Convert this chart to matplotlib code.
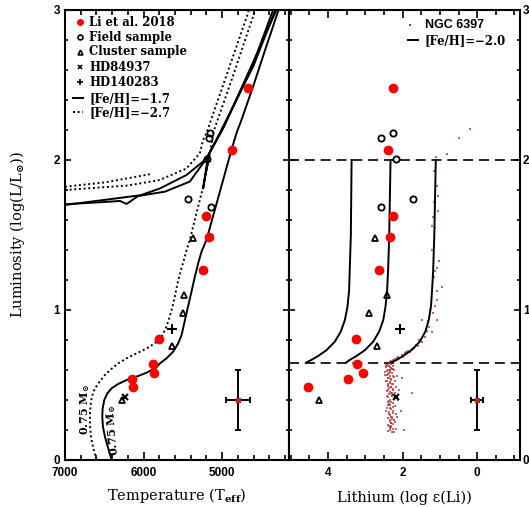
import matplotlib
matplotlib.use("Agg")
import matplotlib.pyplot as plt
from matplotlib.ticker import MultipleLocator

plt.rcParams["font.family"] = ["DejaVu Serif"]
plt.rcParams["font.weight"] = "bold"
plt.rcParams["mathtext.fontset"] = "dejavuserif"
plt.rcParams["mathtext.default"] = "bf"

SANS = "Liberation Sans"
MINUS = "\u2212"

# Li et al. 2018
LI18_TEFF = [4670, 4875, 5205, 5170, 5245, 5800, 5880, 5870, 6145, 6135]
LI18_LUM = [2.48, 2.07, 1.63, 1.49, 1.27, 0.81, 0.64, 0.58, 0.54, 0.49]
LI18_LI = [2.25, 2.38, 2.25, 2.33, 2.63, 3.24, 3.23, 3.06, 3.47, 4.55]

# field sample
FIELD_TEFF = [5150, 5167, 5190, 5433, 5145]
FIELD_LUM = [2.18, 2.15, 2.01, 1.74, 1.69]
FIELD_LI = [2.26, 2.57, 2.17, 1.73, 2.59]

# cluster sample
CLUSTER_TEFF = [5370, 5484, 5505, 5637, 6280]
CLUSTER_LUM = [1.48, 1.10, 0.98, 0.76, 0.40]
CLUSTER_LI = [2.73, 2.43, 2.90, 2.68, 4.24]

# single stars (Teff, logL, A(Li))
HD84937 = (6240, 0.42, 2.17)
HD140283 = (5640, 0.875, 2.06)

# typical error bars
ERR_TEFF, ERR_TEFF_X, ERR_LUM, ERR_LUM_Y = 4800, 150, 0.40, 0.20
ERR_LI, ERR_LI_X = 0.0, 0.17

# isochrone [Fe/H]=-1.7, 0.75 Msun
ISO17_TEFF = [6407, 6450, 6492, 6517, 6526, 6521, 6500, 6462, 6407, 6323, 6216,
              6089, 5962, 5835, 5793, 5708, 5624, 5560, 5517, 5488, 5454, 5420,
              5386, 5348, 5306, 5263, 5200, 5130, 5050, 4960, 4882, 4818, 4755,
              4600, 4450, 4283, 4250]
ISO17_LUM = [0.0, 0.078, 0.156, 0.222, 0.289, 0.344, 0.40, 0.444, 0.478, 0.507, 0.533,
             0.556, 0.582, 0.618, 0.644, 0.678, 0.722, 0.778, 0.833, 0.90, 0.978, 1.056,
             1.133, 1.222, 1.311, 1.389, 1.467, 1.60, 1.75, 1.92, 2.067, 2.18, 2.267,
             2.50, 2.74, 3.0, 3.05]

# isochrone [Fe/H]=-2.7, 0.75 Msun
ISO27_TEFF = [6597, 6640, 6670, 6682, 6682, 6670, 6640, 6577, 6492, 6410, 6320,
              6216, 6089, 5962, 5856, 5771, 5717, 5675, 5632, 5599, 5568, 5530,
              5488, 5446, 5412, 5330, 5243, 5170, 5116, 4850, 4586, 4560]
ISO27_LUM = [0.0, 0.078, 0.156, 0.233, 0.311, 0.389, 0.456, 0.511, 0.567, 0.607, 0.645,
             0.678, 0.711, 0.744, 0.778, 0.822, 0.878, 0.944, 1.022, 1.10, 1.178, 1.256,
             1.333, 1.411, 1.467, 1.64, 1.82, 2.0, 2.18, 2.58, 2.99, 3.05]

# horizontal branch tracks, [Fe/H]=-1.7
HB17_A_TEFF = [7000, 6500, 6301, 6216, 6069, 5729, 5412, 5200, 5179, 5030, 4600, 4332, 4300]
HB17_A_LUM = [1.705, 1.72, 1.727, 1.707, 1.76, 1.789, 1.856, 2.01, 2.03, 2.18, 2.63, 2.99, 3.04]
HB17_B_TEFF = [7000, 6040, 5793, 5454, 5243, 5179, 5000, 4620, 4360, 4330]
HB17_B_LUM = [1.70, 1.765, 1.81, 1.90, 1.99, 2.03, 2.20, 2.62, 2.99, 3.04]
HB17_C_TEFF = [5179, 5243, 5160, 4980, 4600, 4310, 4280]
HB17_C_LUM = [2.03, 1.81, 2.05, 2.22, 2.66, 3.0, 3.05]

# horizontal branch tracks, [Fe/H]=-2.7
HB27_A_TEFF = [7000, 6600, 6200, 5793, 5454, 5285, 5243, 5200, 4935, 4671, 4650]
HB27_A_LUM = [1.80, 1.815, 1.83, 1.867, 1.944, 2.044, 2.133, 2.18, 2.58, 2.98, 3.03]
HB27_B_TEFF = [7000, 6500, 5920]
HB27_B_LUM = [1.822, 1.85, 1.905]

# Li evolution tracks, [Fe/H]=-2.0
TRACK1_LI = [3.37, 3.39, 3.42, 3.436, 3.48, 3.55, 3.66, 3.82, 4.04, 4.27, 4.45, 4.58]
TRACK1_LUM = [2.0, 1.5, 1.267, 1.133, 1.022, 0.933, 0.856, 0.789, 0.733, 0.693, 0.667, 0.651]
TRACK2_LI = [2.325, 2.36, 2.39, 2.416, 2.46, 2.52, 2.63, 2.79, 3.01, 3.24, 3.42, 3.51]
TRACK2_LUM = [2.0, 1.5, 1.267, 1.133, 1.022, 0.933, 0.856, 0.789, 0.733, 0.693, 0.667, 0.651]
TRACK3_LI = [1.11, 1.15, 1.18, 1.21, 1.24, 1.30, 1.39, 1.54, 1.76, 1.99, 2.16, 2.30]
TRACK3_LUM = [2.0, 1.5, 1.267, 1.133, 1.022, 0.933, 0.856, 0.789, 0.733, 0.693, 0.667, 0.651]

# NGC 6397 stars
NGC_LI = [0.20, 0.50, 0.82, 1.11, 1.16, 1.09, 1.05, 1.16, 1.06, 1.18, 1.22, 1.14,
          1.02, 1.09, 1.12, 1.15, 0.94, 1.07, 1.09, 1.12, 1.18, 1.09, 1.49, 1.28,
          1.22, 1.40, 1.49, 1.63, 1.70, 1.81, 1.94, 2.03, 2.12, 2.21, 2.30, 2.34,
          1.35, 1.55, 1.75, 1.90, 2.00, 2.15, 2.25, 1.20, 1.27, 1.33, 1.60, 1.85,
          2.38, 2.30, 2.42, 2.25, 2.35, 2.45, 2.28, 2.40, 2.33, 2.22, 2.47, 2.36,
          2.29, 2.42, 2.25, 2.34, 2.39, 2.30, 2.44, 2.21, 2.35, 2.27, 2.40, 2.32,
          2.18, 2.37, 2.26, 2.43, 2.31, 2.20, 2.36, 2.28, 1.76, 2.40, 2.24, 2.33,
          2.12, 2.38, 2.27, 2.35, 2.21, 2.42, 2.30, 2.25, 2.37, 2.18, 2.33, 2.28,
          2.40, 2.22, 2.34, 2.30, 2.26, 2.37, 2.31, 2.19, 2.35, 2.28, 1.96, 2.05,
          2.10, 2.15, 2.02,
          2.44, 2.36, 2.31, 2.27, 2.41, 2.33, 2.39, 2.46, 2.24, 2.37, 2.30, 2.43,
          2.35, 2.28, 2.40, 2.32, 2.26, 2.38, 2.34, 2.29, 2.41, 2.23, 2.36, 2.31,
          2.39, 2.27, 2.33, 2.44, 2.25, 2.37, 2.32, 2.29, 2.35, 2.21, 2.38, 2.30,
          2.34, 2.27, 2.40, 2.24, 2.32, 2.36, 2.29, 2.39, 2.16, 2.33]
NGC_LUM = [2.21, 2.15, 2.04, 2.02, 1.93, 1.83, 1.76, 1.72, 1.66, 1.62, 1.56, 1.55,
           1.33, 1.28, 1.26, 1.22, 1.156, 1.13, 1.067, 1.03, 0.978, 0.933, 0.933, 0.89,
           0.856, 0.82, 0.789, 0.767, 0.745, 0.722, 0.711, 0.70, 0.684, 0.671, 0.662, 0.655,
           0.86, 0.80, 0.74, 0.72, 0.69, 0.68, 0.665, 1.40, 1.00, 0.93, 0.76, 0.73,
           0.64, 0.64, 0.63, 0.63, 0.62, 0.62, 0.61, 0.60, 0.60, 0.60, 0.59, 0.58,
           0.58, 0.57, 0.56, 0.56, 0.55, 0.54, 0.53, 0.53, 0.52, 0.51, 0.50, 0.49,
           0.49, 0.48, 0.47, 0.46, 0.45, 0.45, 0.44, 0.43, 0.45, 0.42, 0.41, 0.40,
           0.40, 0.39, 0.38, 0.37, 0.36, 0.35, 0.34, 0.33, 0.32, 0.31, 0.30, 0.29,
           0.28, 0.27, 0.26, 0.25, 0.24, 0.23, 0.22, 0.21, 0.20, 0.19, 0.20, 0.33,
           0.47, 0.56, 0.55,
           0.635, 0.625, 0.615, 0.605, 0.595, 0.585, 0.575, 0.565, 0.555, 0.545, 0.535, 0.525,
           0.515, 0.505, 0.495, 0.485, 0.475, 0.465, 0.455, 0.435, 0.425, 0.415, 0.395, 0.385,
           0.365, 0.355, 0.345, 0.325, 0.315, 0.305, 0.285, 0.275, 0.265, 0.255, 0.235, 0.225,
           0.215, 0.205, 0.195, 0.185, 0.245, 0.375, 0.445, 0.505, 0.29, 0.60]

LI_DEPLETION_LUM = [2.0, 0.65]

DOT = (0, (1, 1.4))
RED = "#ff0000"
NGC_COLOR = "#b03636"


def style_axes(ax):
    ax.set_ylim(0, 3)
    ax.yaxis.set_major_locator(MultipleLocator(1))
    ax.yaxis.set_minor_locator(MultipleLocator(0.2))
    ax.tick_params(which="both", direction="in", top=True, right=True, width=1.2,
                   labelsize=8.5, labelfontfamily=SANS)
    ax.tick_params(axis="x", which="major", length=6, pad=5)
    ax.tick_params(axis="x", which="minor", length=3.6)
    ax.tick_params(axis="y", which="major", length=4.5)
    ax.tick_params(axis="y", which="minor", length=2.5)
    for spine in ax.spines.values():
        spine.set_linewidth(1.5)


def plot_symbols(ax, xs):
    li18, field, cluster, hd84, hd14 = xs
    ax.plot(field[0], field[1], "o", ms=4.5, mfc="none", mec="black", mew=1.3, ls="none")
    ax.plot(cluster[0], cluster[1], "^", ms=5, mfc="none", mec="black", mew=1.3, ls="none")
    ax.plot(hd84[0], hd84[1], "x", ms=4.5, color="black", mew=1.5, ls="none")
    ax.plot(hd14[0], hd14[1], "+", ms=6.5, color="black", mew=1.5, ls="none")
    ax.plot(li18[0], li18[1], "o", ms=6, color=RED, mec=RED, ls="none")


def legend_marker(ax, x, y, text, size=8.4, family=None, gap=0.04, **style):
    ax.plot([x], [y], transform=ax.transAxes, ls="none", clip_on=False, **style)
    ax.text(x + gap, y, text, transform=ax.transAxes, va="center", ha="left",
            fontsize=size, family=family)


def legend_line(ax, x0, x1, y, text, **style):
    ax.plot([x0, x1], [y, y], transform=ax.transAxes, clip_on=False, color="black", **style)
    ax.text(x1 + 0.03, y, text, transform=ax.transAxes, va="center", ha="left", fontsize=8.4)


def main():
    fig = plt.figure(figsize=(5.29, 5.07), dpi=100)
    ax_t = fig.add_axes([65 / 529, 47 / 507, 224 / 529, 450 / 507])
    ax_l = fig.add_axes([289 / 529, 47 / 507, 231 / 529, 450 / 507])

    # ---- temperature panel
    ax_t.plot(ISO17_TEFF, ISO17_LUM, color="black", lw=1.4)
    ax_t.plot(ISO27_TEFF, ISO27_LUM, color="black", lw=1.4, ls=DOT)
    ax_t.plot(HB17_A_TEFF, HB17_A_LUM, color="black", lw=1.4)
    ax_t.plot(HB17_B_TEFF, HB17_B_LUM, color="black", lw=1.4)
    ax_t.plot(HB17_C_TEFF, HB17_C_LUM, color="black", lw=1.4)
    ax_t.plot(HB27_A_TEFF, HB27_A_LUM, color="black", lw=1.4, ls=DOT)
    ax_t.plot(HB27_B_TEFF, HB27_B_LUM, color="black", lw=1.4, ls=DOT)

    plot_symbols(ax_t, [(LI18_TEFF, LI18_LUM), (FIELD_TEFF, FIELD_LUM),
                        (CLUSTER_TEFF, CLUSTER_LUM), ([HD84937[0]], [HD84937[1]]),
                        ([HD140283[0]], [HD140283[1]])])
    ax_t.errorbar(ERR_TEFF, ERR_LUM, xerr=ERR_TEFF_X, yerr=ERR_LUM_Y, color="black",
                  lw=1.4, capsize=2.5, capthick=1.4)
    ax_t.plot(ERR_TEFF, ERR_LUM, "s", ms=2.5, color="#c02020")

    ax_t.text(6750, 0.335, r"0.75 M$_{\odot}$", rotation=90, ha="center", va="center", fontsize=8)
    ax_t.text(6390, 0.20, r"0.75 M$_{\odot}$", rotation=95, ha="center", va="center", fontsize=8)

    ax_t.set_xlim(7000, 4150)
    ax_t.xaxis.set_major_locator(MultipleLocator(1000))
    ax_t.xaxis.set_minor_locator(MultipleLocator(200))
    style_axes(ax_t)
    ax_t.set_xlabel(r"Temperature (T$_{\mathbf{eff}}$)", fontsize=10.5)
    ax_t.xaxis.set_label_coords(0.5, -0.079)
    ax_t.xaxis.label.set_va("center")
    ax_t.set_ylabel(r"Luminosity (log(L/L$_{\odot}$))", fontsize=10.5)
    ax_t.yaxis.set_label_coords(-0.21, 0.5)
    ax_t.yaxis.label.set_va("center")

    rows = [0.973, 0.94, 0.907, 0.873, 0.84, 0.804, 0.773]
    mx = 0.067
    legend_marker(ax_t, mx, rows[0], "Li et al. 2018", marker="o", ms=4, color=RED)
    legend_marker(ax_t, mx, rows[1], "Field sample", marker="o", ms=3.5, mfc="none", mec="black", mew=1.2)
    legend_marker(ax_t, mx, rows[2], "Cluster sample", marker="^", ms=3.5, mfc="none", mec="black", mew=1.2)
    legend_marker(ax_t, mx, rows[3], "HD84937", marker="x", ms=3, color="black", mew=1.2)
    legend_marker(ax_t, mx, rows[4], "HD140283", marker="+", ms=4, color="black", mew=1.2)
    legend_line(ax_t, 0.036, 0.080, rows[5], f"[Fe/H]={MINUS}1.7", lw=1.4)
    legend_line(ax_t, 0.036, 0.080, rows[6], f"[Fe/H]={MINUS}2.7", lw=1.4, ls=DOT)

    # ---- lithium panel
    for lum in LI_DEPLETION_LUM:
        ax_l.axhline(lum, color="black", lw=1.2, ls=(0, (6, 3.5)))
    ax_l.plot(NGC_LI, NGC_LUM, "s", ms=1.8, mew=0, color=NGC_COLOR, alpha=0.75, ls="none")
    ax_l.plot(TRACK1_LI, TRACK1_LUM, color="black", lw=1.4)
    ax_l.plot(TRACK2_LI, TRACK2_LUM, color="black", lw=1.4)
    ax_l.plot(TRACK3_LI, TRACK3_LUM, color="black", lw=1.4)

    plot_symbols(ax_l, [(LI18_LI, LI18_LUM), (FIELD_LI, FIELD_LUM),
                        (CLUSTER_LI, CLUSTER_LUM), ([HD84937[2]], [HD84937[1]]),
                        ([HD140283[2]], [HD140283[1]])])
    ax_l.errorbar(ERR_LI, ERR_LUM, xerr=ERR_LI_X, yerr=ERR_LUM_Y, color="black",
                  lw=1.4, capsize=2.5, capthick=1.4)
    ax_l.plot(ERR_LI, ERR_LUM, "s", ms=2.5, color="#c02020")

    ax_l.set_xlim(5.05, -1.15)
    ax_l.xaxis.set_major_locator(MultipleLocator(2))
    ax_l.xaxis.set_minor_locator(MultipleLocator(0.5))
    style_axes(ax_l)
    ax_l.tick_params(axis="y", labelleft=False, labelright=True, pad=2)
    ax_l.set_xlabel("Lithium (log \u03b5(Li))", fontsize=10.5)
    ax_l.xaxis.set_label_coords(0.5, -0.085)
    ax_l.xaxis.label.set_va("center")

    legend_marker(ax_l, 0.524, 0.967, "NGC 6397", size=9, family=SANS, gap=0.065,
                  marker="s", ms=1.8, mew=0, color=NGC_COLOR)
    legend_line(ax_l, 0.515, 0.558, 0.933, f"[Fe/H]={MINUS}2.0", lw=1.4)

    fig.savefig("out.png", dpi=100)
    plt.close(fig)


if __name__ == "__main__":
    main()
